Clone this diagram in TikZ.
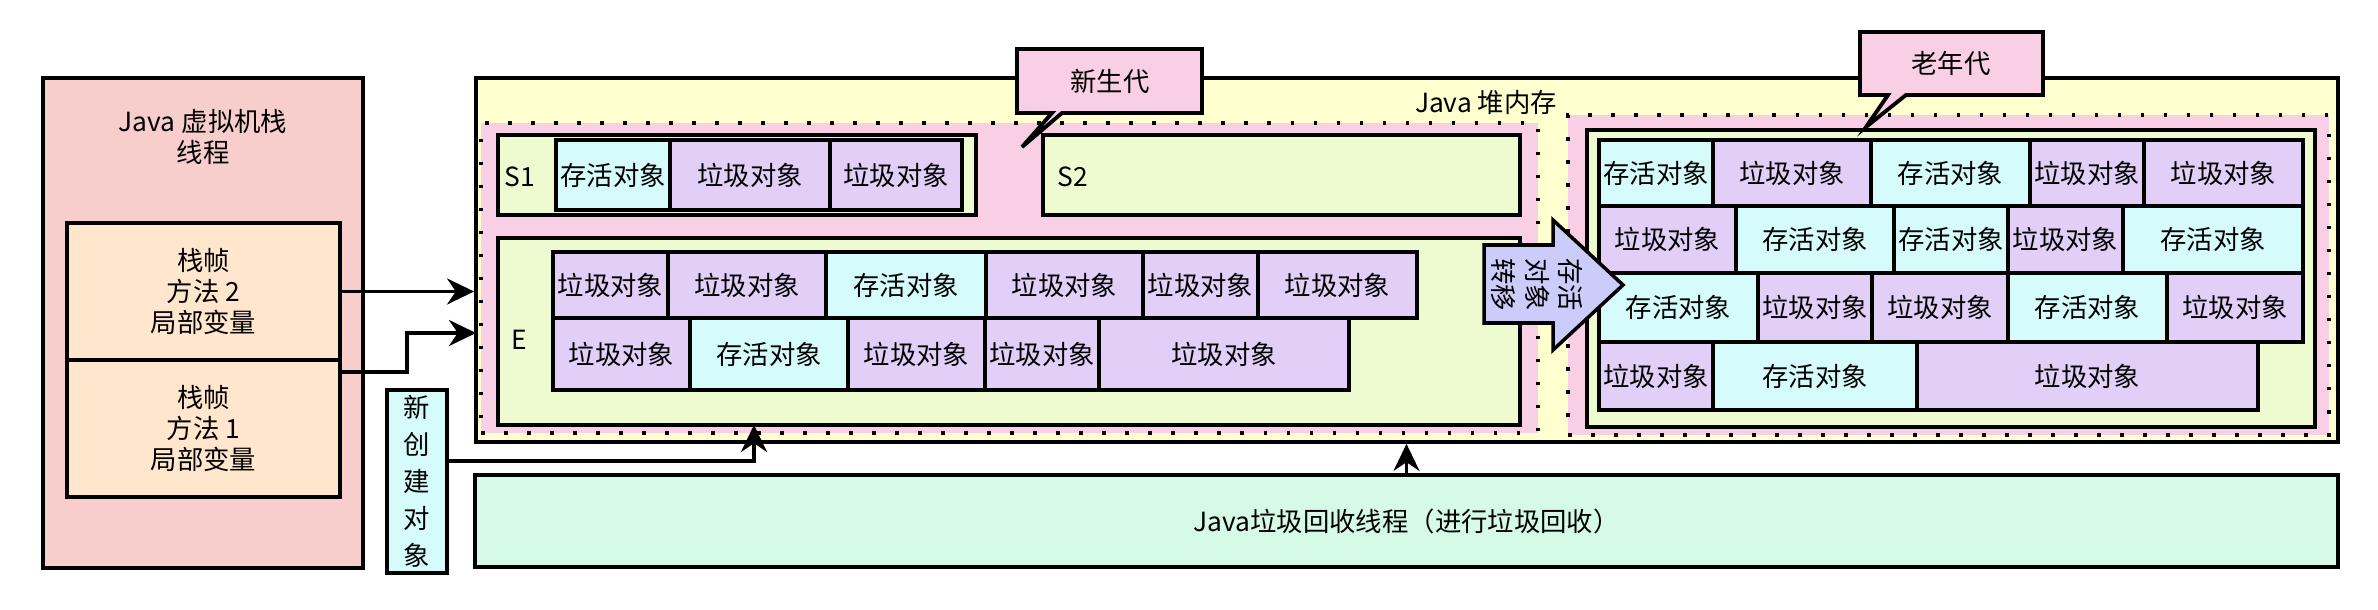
\documentclass[tikz,border=0pt]{standalone}
\usepackage{fontspec}
\setmainfont{Noto Sans CJK SC}
\usetikzlibrary{arrows.meta}

\definecolor{stackred}{HTML}{F8CECC}
\definecolor{frameorange}{HTML}{FFE6CC}
\definecolor{heapyellow}{HTML}{FFFFD0}
\definecolor{genpink}{HTML}{F8CFE4}
\definecolor{spacegreen}{HTML}{EEFBD0}
\definecolor{livecyan}{HTML}{D5FBFB}
\definecolor{junkpurple}{HTML}{E1CFF7}
\definecolor{moveblue}{HTML}{CCCCFA}
\definecolor{gcgreen}{HTML}{D5FAE6}

\newcommand\objlive{存活对象}
\newcommand\objjunk{垃圾对象}
% named box from corner (#3,#4) to corner (#5,#6)
\newcommand\areabox[7]{\node[#2, minimum width={(#5-#3)*0.01cm}, minimum height={(#6-#4)*0.01cm}] (#1) at ({(#3+#5)/2},{(#4+#6)/2}) {#7};}

\begin{document}
\begin{tikzpicture}[x=0.01cm, y=-0.01cm, font=\fontsize{7.5}{8.8}\selectfont,
  area/.style={draw, line width=1pt, inner sep=0pt, align=center},
  live/.style={fill=livecyan}, junk/.style={fill=junkpurple},
  gen/.style={fill=genpink, draw, line width=0.035cm, dash pattern=on 0.035cm off 0.195cm},
  tag/.style={draw, fill=genpink, line width=1.1pt, line join=miter},
  spacelabel/.style={anchor=west, inner sep=0pt},
  conn/.style={line width=1pt, -{Stealth[length=0.27cm, width=0.26cm]}}]
\useasboundingbox (0,0) rectangle (2378,610);

% JVM stack
\areabox{jvm}{area, fill=stackred, line width=1.1pt}{43}{78}{363}{568}{}
\node[align=center] (jvmlabel) at (203,137) {Java 虚拟机栈\\线程};
\areabox{frame2}{area, fill=frameorange}{67}{223}{340}{360}{栈帧\\方法 2\\局部变量}
\areabox{frame1}{area, fill=frameorange}{67}{360}{340}{497}{栈帧\\方法 1\\局部变量}

% heap
\areabox{heap}{area, fill=heapyellow, line width=1.1pt}{476}{78}{2338}{442}{}
\node (heaplabel) at (1486,103) {Java 堆内存};

% young generation
\areabox{young}{gen}{481}{123}{1538}{433}{}
\areabox{s1}{area, fill=spacegreen}{498}{135}{976}{215}{}
\node[spacelabel] (s1label) at (504,177) {S1};
\foreach \a/\b/\k [count=\i] in {556/670/live, 670/830/junk, 830/962/junk}
{
  \areabox{s1o\i}{area, \k}{\a}{140}{\b}{210}{\csname obj\k\endcsname}
}
\areabox{s2}{area, fill=spacegreen}{1043}{135}{1520}{215}{}
\node[spacelabel] (s2label) at (1057,177) {S2};
\areabox{eden}{area, fill=spacegreen}{498}{238}{1520}{425}{}
\node[spacelabel] (edenlabel) at (511,340) {E};
\foreach \a/\b/\k [count=\i] in {553/668/junk, 668/826/junk, 826/986/live, 986/1143/junk, 1143/1258/junk, 1258/1417/junk}
{
  \areabox{ea\i}{area, \k}{\a}{252}{\b}{318}{\csname obj\k\endcsname}
}
\foreach \a/\b/\k [count=\i] in {553/690/junk, 690/848/live, 848/985/junk, 985/1099/junk, 1099/1349/junk}
{
  \areabox{eb\i}{area, \k}{\a}{318}{\b}{390}{\csname obj\k\endcsname}
}

% old generation
\areabox{old}{gen}{1568}{115}{2329}{435}{}
\areabox{oldspace}{area, fill=spacegreen}{1587}{130}{2315}{427}{}
\foreach \a/\b/\k [count=\i] in {1599/1713/live, 1713/1871/junk, 1871/2030/live, 2030/2144/junk, 2144/2303/junk}
{
  \areabox{oa\i}{area, \k}{\a}{140}{\b}{206}{\csname obj\k\endcsname}
}
\foreach \a/\b/\k [count=\i] in {1599/1736/junk, 1736/1894/live, 1894/2008/live, 2008/2123/junk, 2123/2303/live}
{
  \areabox{ob\i}{area, \k}{\a}{206}{\b}{273}{\csname obj\k\endcsname}
}
\foreach \a/\b/\k [count=\i] in {1599/1758/live, 1758/1872/junk, 1872/2008/junk, 2008/2167/live, 2167/2303/junk}
{
  \areabox{oc\i}{area, \k}{\a}{273}{\b}{342}{\csname obj\k\endcsname}
}
\foreach \a/\b/\k [count=\i] in {1599/1713/junk, 1713/1917/live, 1917/2258/junk}
{
  \areabox{od\i}{area, \k}{\a}{342}{\b}{410}{\csname obj\k\endcsname}
}

% promotion arrow
\draw[area, fill=moveblue, line join=miter] (1484,245) -- (1553,245) -- (1553,220) -- (1623,285)
  -- (1553,350) -- (1553,323) -- (1484,323) -- cycle;
\node[rotate=-90, align=center, font=\fontsize{7.5}{9.4}\selectfont] (movetext) at (1537,285) {存活\\对象\\转移};

% callouts
\draw[tag] (1017,49) -- (1202,49) -- (1202,113) -- (1062,113) -- (1022,147) -- (1052,113) -- (1017,113) -- cycle;
\node (youngtag) at (1110,81) {新生代};
\draw[tag] (1860,32) -- (2043,32) -- (2043,95) -- (1906,95) -- (1866,127) -- (1888,95) -- (1860,95) -- cycle;
\node (oldtag) at (1951,63) {老年代};

% new objects and gc thread
\areabox{newobj}{area, fill=livecyan}{387}{390}{447}{573}{}
\node[align=center, font=\fontsize{7.5}{10.5}\selectfont] (newtext) at (newobj) {新\\创\\建\\对\\象};
\areabox{gc}{area, fill=gcgreen}{475}{475}{2338}{567}{Java垃圾回收线程（进行垃圾回收）}

% connectors
\coordinate (f1out) at (340,372);
\coordinate (in2) at (476,333);
\coordinate (nout) at (447,461);
\coordinate (ein) at (754,425);
\draw[conn] (frame2.east) -- (frame2.east -| heap.west);
\draw[conn] (f1out) -- (407,372) |- (in2);
\draw[conn] (nout) -| (ein);
\draw[conn] (gc.north) -- (gc.north |- heap.south);
\end{tikzpicture}
\end{document}
